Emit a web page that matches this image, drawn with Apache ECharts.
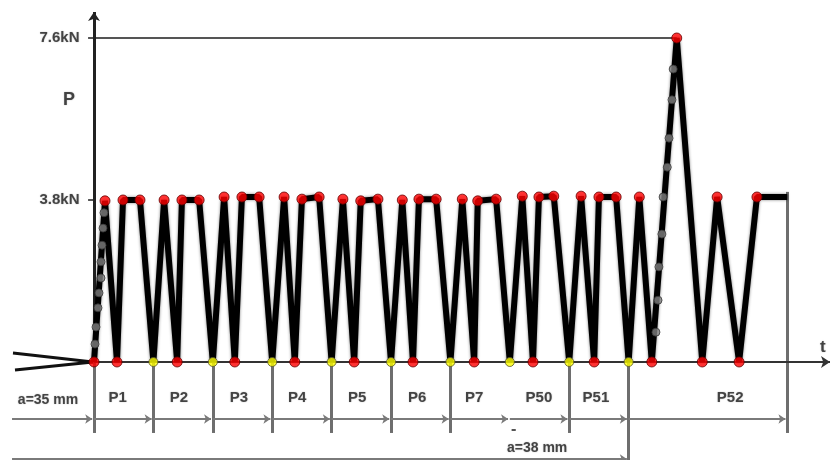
<!DOCTYPE html>
<html><head><meta charset="utf-8">
<script src="https://cdn.jsdelivr.net/npm/echarts@6/dist/echarts.min.js"></script>
<style>html,body{margin:0;padding:0;background:#fff}#c{width:830px;height:460px}</style>
</head><body><div id="c"></div>
<script>
// ---- data (t in load periods, P in kN) ----
const P_LEVELS = [7.6, 3.8];
const P_TICK_LABELS = ['7.6kN', '3.8kN'];
const AXIS_NAME_P = 'P';
const AXIS_NAME_T = 't';
const PERIOD_LABELS = ['P1','P2','P3','P4','P5','P6','P7','P50','P51','P52'];
const PERIOD_LABEL_T = [0.40, 1.43, 2.44, 3.42, 4.43, 5.44, 6.40, 7.49, 8.45, 10.71];
const DIM_BOUNDS = [0, 1, 2, 3, 4, 5, 6, 7, 8, 9, 11.67];
const SEPARATORS = [0, 1, 2, 3, 4, 5, 6, 8, 9];
const T_END = 11.67;
const PEAK_T = 9.81;
const DIM_LABELS = ['a=35 mm', 'a=38 mm'];

// main load path: [t, P]
const loadPath = [
  [0,0],[0.185,3.78],[0.387,0],[0.488,3.80],[0.774,3.80],
  [1,0],[1.18,3.80],[1.40,0],[1.48,3.80],[1.77,3.80],
  [2,0],[2.19,3.87],[2.37,0],[2.49,3.87],[2.78,3.87],
  [3,0],[3.20,3.87],[3.38,0],[3.50,3.82],[3.79,3.87],
  [4,0],[4.19,3.82],[4.38,0],[4.49,3.78],[4.78,3.82],
  [5,0],[5.19,3.80],[5.37,0],[5.47,3.82],[5.76,3.82],
  [6,0],[6.20,3.82],[6.40,0],[6.46,3.78],[6.77,3.82],
  [7,0],[7.21,3.89],[7.39,0],[7.49,3.87],[7.74,3.89],
  [8,0],[8.20,3.89],[8.42,0],[8.50,3.87],[8.79,3.87],
  [9,0],[9.18,3.87],[9.39,0],[9.81,7.6],[10.24,0],
  [10.49,3.87],[10.86,0],[11.16,3.87],[11.67,3.87]
];
// marker kind per path point: r = red, y = yellow, - = none
const pointKind = 'rrrrr' + 'yrrrr'.repeat(9) + 'rrr-';

// loading steps (grey points) on the two ramps
const rampSteps = [
  [0.017,0.42],[0.034,0.82],[0.067,1.27],[0.084,1.62],[0.118,1.97],
  [0.118,2.35],[0.135,2.74],[0.152,3.14],[0.168,3.50],
  [9.46,0.70],[9.495,1.45],[9.51,2.23],[9.56,3.00],[9.58,3.87],
  [9.65,4.57],[9.68,5.25],[9.73,6.15],[9.75,6.87]
];

// ---- layout helpers ----
const X_MIN = -1.5825, X_MAX = 12.39, Y_MIN = -2.299, Y_MAX = 8.491;
const Y_TOP = 8.21, SEP_BOTTOM = -1.665, DIM1 = -1.337, DIM2 = -2.275, X_LEFT = -1.38;

const redPts = loadPath.filter((p, i) => pointKind[i] === 'r');
const yellowPts = loadPath.filter((p, i) => pointKind[i] === 'y');

function seg(a, b) { return { coords: [a, b] }; }

const axisSegs = [ seg([0,0],[0,Y_TOP]) ];
const baseSegs = [ seg([0,0],[X_MAX,0]) ];
const thinSegs = [
  seg([0,P_LEVELS[0]],[PEAK_T,P_LEVELS[0]]),
  seg([-0.1,P_LEVELS[0]],[0,P_LEVELS[0]]),
  seg([-0.1,P_LEVELS[1]],[0,P_LEVELS[1]]),
  seg([7.03,-1.6],[7.1,-1.6])
];
const sepSegs = SEPARATORS.map(t => seg([t,0],[t, t === 9 ? Y_MIN : SEP_BOTTOM]));
sepSegs.push(seg([T_END,3.99],[T_END,SEP_BOTTOM]));
const dimSegs = [];
const bounds = [X_LEFT].concat(DIM_BOUNDS);
for (let i = 0; i < bounds.length - 1; i++) dimSegs.push(seg([bounds[i], DIM1], [bounds[i+1]-0.03, DIM1]));
dimSegs.push(seg([X_LEFT, DIM2], [8.97, DIM2]));
const wedgeSegs = [ seg([-1.364,0.211],[-0.017,0]), seg([-1.330,-0.188],[-0.017,0]) ];

const txt = { fontFamily: 'Liberation Sans, Arial, sans-serif', fontWeight: 'bold', color: '#222',
  textShadowColor: 'rgba(0,0,0,0.35)', textShadowBlur: 1.5 };

const labels = [];
P_LEVELS.forEach((p, i) => labels.push({ value: [-0.236, p], name: P_TICK_LABELS[i], label: { position: 'left', distance: 0, fontSize: 15 } }));
labels.push({ value: [-0.42, 6.146], name: AXIS_NAME_P, label: { fontSize: 18 } });
labels.push({ value: [12.27, 0.35], name: AXIS_NAME_T, label: { fontSize: 17 } });
PERIOD_LABELS.forEach((n, i) => labels.push({ value: [PERIOD_LABEL_T[i], -0.83], name: n, label: { fontSize: 15 } }));
labels.push({ value: [-0.774, -0.89], name: DIM_LABELS[0], label: { fontSize: 14 } });
labels.push({ value: [7.46, -2.02], name: DIM_LABELS[1], label: { fontSize: 14 } });

function linesSeries(data, color, width, arrow, z) {
  return { type: 'lines', coordinateSystem: 'cartesian2d', data: data, z: z || 1,
    symbol: arrow ? ['none', 'arrow'] : ['none', 'none'], symbolSize: arrow || 0,
    lineStyle: { color: color, width: width, opacity: 1, curveness: 0 }, silent: true };
}

const chart = echarts.init(document.getElementById('c'), null, { renderer: 'canvas' });
chart.setOption({
  animation: false,
  backgroundColor: '#fff',
  grid: { left: 0, right: 0, top: 0, bottom: 0 },
  xAxis: { type: 'value', min: X_MIN, max: X_MAX, show: false },
  yAxis: { type: 'value', min: Y_MIN, max: Y_MAX, show: false },
  series: [
    linesSeries(sepSegs, '#6e6e6e', 3, 0, 1),
    linesSeries(dimSegs, '#7a7a7a', 2, 7, 1),
    linesSeries(thinSegs, '#555', 2, 0, 1),
    linesSeries(baseSegs, '#333', 2, 9, 2),
    linesSeries(axisSegs, '#222', 3, 9, 2),
    linesSeries(wedgeSegs, '#111', 3, 0, 2),
    { type: 'line', data: loadPath, showSymbol: false, z: 3, silent: true,
      lineStyle: { color: '#000', width: 6, shadowColor: 'rgba(0,0,0,0.5)', shadowBlur: 3 } },
    { type: 'scatter', data: rampSteps, symbolSize: 8, z: 4, silent: true,
      itemStyle: { color: '#808080', borderColor: '#333', borderWidth: 1 } },
    { type: 'scatter', data: redPts, symbolSize: 10, z: 5, silent: true,
      itemStyle: { color: '#ff0000', borderColor: '#600', borderWidth: 1 } },
    { type: 'scatter', data: yellowPts, symbolSize: 9, z: 5, silent: true,
      itemStyle: { color: '#ffff00', borderColor: '#553', borderWidth: 1 } },
    { type: 'scatter', data: labels, symbolSize: 1, z: 6, silent: true,
      itemStyle: { color: 'rgba(0,0,0,0)' },
      label: Object.assign({ show: true, position: 'inside', formatter: '{b}' }, txt) }
  ]
});
</script></body></html>
